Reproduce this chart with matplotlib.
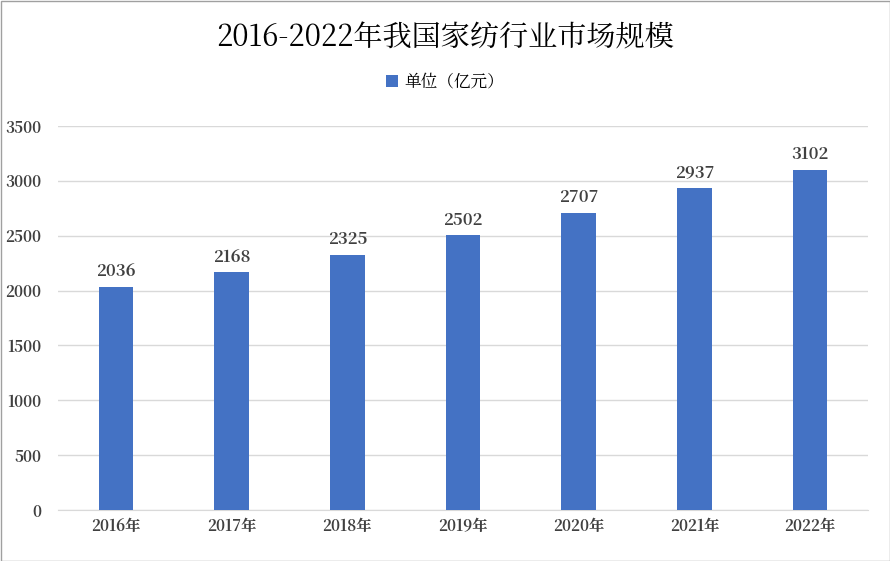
import matplotlib
matplotlib.use("Agg")
import matplotlib.pyplot as plt
from matplotlib.patches import Rectangle
from matplotlib import font_manager as fm

cjk = None
for f in fm.fontManager.ttflist:
    if "CJK" in f.name and ("SC" in f.name or cjk is None):
        cjk = f.name
        if "SC" in f.name:
            break
plt.rcParams["font.family"] = [cjk, "DejaVu Sans"] if cjk else ["DejaVu Sans"]

categories = ["2016年", "2017年", "2018年", "2019年", "2020年", "2021年", "2022年"]
values = [2036, 2168, 2325, 2502, 2707, 2937, 3102]
yticks = [0, 500, 1000, 1500, 2000, 2500, 3000, 3500]

fig = plt.figure(figsize=(8.9, 5.61), dpi=100)
ax = fig.add_axes([58/890, 1-510/561, (868-58)/890, (510-126)/561])
x = range(len(categories))
bars = ax.bar(x, values, width=0.3, color="#4472C4", zorder=3)
for xi, v in zip(x, values):
    ax.text(xi, v + 60, str(v), ha="center", va="bottom", fontsize=12, fontweight="bold", color="#404040")
ax.set_xlim(-0.5, len(categories) - 0.5)
ax.set_ylim(0, 3500)
ax.set_yticks(yticks)
ax.set_xticks(list(x))
ax.set_xticklabels(categories, fontsize=11, fontweight="bold", color="#404040")
ax.tick_params(axis="y", labelsize=11, labelcolor="#404040", length=0, pad=12)
ax.tick_params(axis="x", length=0, pad=6)
for lab in ax.get_yticklabels():
    lab.set_fontweight("bold")
ax.grid(axis="y", color="#D9D9D9", linewidth=1, zorder=0)
for s in ["top", "right", "left"]:
    ax.spines[s].set_visible(False)
ax.spines["bottom"].set_color("#D9D9D9")
fig.text(0.5, 1-38/561, "2016-2022年我国家纺行业市场规模", ha="center", va="center", fontsize=21, color="black")
fig.legend(handles=[bars], labels=["单位（亿元）"], loc="center", bbox_to_anchor=(0.5, 1-82/561),
           frameon=False, fontsize=12, handlelength=0.7, handleheight=0.7, handletextpad=0.4)
fig.patches.append(Rectangle((0.5/890, 0.5/561), 889/890, 560/561, transform=fig.transFigure,
                             fill=False, edgecolor="#A0A0A0", linewidth=1))
fig.savefig("out.png", dpi=100)
